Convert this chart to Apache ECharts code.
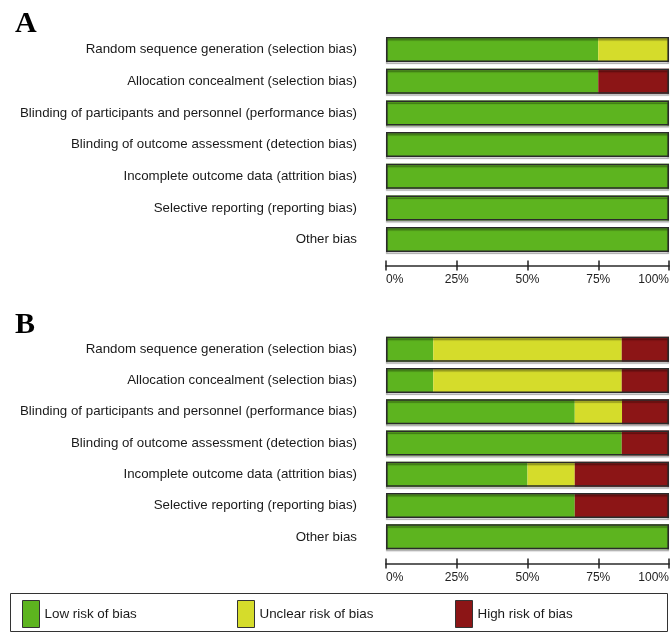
<!DOCTYPE html>
<html><head><meta charset="utf-8">
<script src="https://cdn.jsdelivr.net/npm/echarts@6/dist/echarts.min.js"></script>
<style>html,body{margin:0;padding:0;background:#fff}#c{width:670px;height:633px}</style>
</head><body><div id="c"></div>
<script>
const categories = [
  'Random sequence generation (selection bias)',
  'Allocation concealment (selection bias)',
  'Blinding of participants and personnel (performance bias)',
  'Blinding of outcome assessment (detection bias)',
  'Incomplete outcome data (attrition bias)',
  'Selective reporting (reporting bias)',
  'Other bias'
];
const seriesNames = ['Low risk of bias', 'Unclear risk of bias', 'High risk of bias'];
// Panel A (%)
const lowA = [75, 75, 100, 100, 100, 100, 100];
const unclearA = [25, 0, 0, 0, 0, 0, 0];
const highA = [0, 25, 0, 0, 0, 0, 0];
// Panel B (%)
const lowB = [16.7, 16.7, 66.7, 83.3, 50, 66.7, 100];
const unclearB = [66.6, 66.6, 16.7, 0, 16.7, 0, 0];
const highB = [16.7, 16.7, 16.6, 16.7, 33.3, 33.3, 0];
const tickValues = [0, 25, 50, 75, 100];
const panelLetters = ['A', 'B'];

const colors = ['#5db41f', '#d5dc2b', '#8c1516'];
const font = 'Liberation Sans, Arial, sans-serif';

const chart = echarts.init(document.getElementById('c'));
const grids = [
  {left: 386, width: 283, top: 33.7, height: 221.7, outerBoundsMode: 'none', containLabel: false},
  {left: 386, width: 283, top: 333.5, height: 219, outerBoundsMode: 'none', containLabel: false}
];
const offsets = [10, 11];
const xAxes = [], yAxes = [], series = [];
const panels = [[lowA, unclearA, highA], [lowB, unclearB, highB]];
grids.forEach((g, i) => {
  const base = {
    type: 'value', gridIndex: i, min: 0, max: 100, interval: 25,
    position: 'bottom', offset: offsets[i], splitLine: {show: false},
    axisLine: {show: true, lineStyle: {color: '#555', width: 1.5}}
  };
  xAxes.push(Object.assign({}, base, {
    axisTick: {show: true, inside: false, length: 5, lineStyle: {color: '#222', width: 1.5}},
    axisLabel: {show: true, fontFamily: font, fontSize: 12, color: '#222', margin: 8,
      alignMinLabel: 'left', alignMaxLabel: 'right',
      formatter: v => tickValues.includes(v) ? v + '%' : ''}
  }));
  xAxes.push(Object.assign({}, base, {
    axisTick: {show: true, inside: true, length: 5, lineStyle: {color: '#222', width: 1.5}},
    axisLabel: {show: false}
  }));
  yAxes.push({
    type: 'category', gridIndex: i, data: categories, inverse: true,
    axisLine: {show: false}, axisTick: {show: false},
    axisLabel: {fontFamily: font, fontSize: 13.3, color: '#1a1a1a', margin: 29}
  });
  const vals = panels[i];
  vals.forEach((arr, k) => {
    series.push({
      name: seriesNames[k], type: 'bar', stack: 'p' + i,
      xAxisIndex: i * 2, yAxisIndex: i, barWidth: 25,
      itemStyle: {color: colors[k]}, data: arr, silent: true
    });
  });
  const totals = categories.map((_, r) => vals.reduce((s, a) => s + a[r], 0));
  series.push({
    name: 'outline' + i, type: 'bar', xAxisIndex: i * 2, yAxisIndex: i,
    barWidth: 25, barGap: '-100%', z: 5, silent: true,
    itemStyle: {color: 'rgba(0,0,0,0)', borderColor: '#2a2a2a', borderWidth: 1.5,
      shadowColor: 'rgba(0,0,0,0.35)', shadowOffsetY: 2, shadowBlur: 1},
    data: totals
  });
});

const legendX = [22, 237, 455];
const legends = seriesNames.map((n, k) => ({
  data: [n], left: legendX[k], top: 600, padding: 0, itemWidth: 17, itemHeight: 27, itemGap: 0,
  icon: 'rect', selectedMode: false,
  textStyle: {fontFamily: font, fontSize: 13.4, color: '#1a1a1a'},
  itemStyle: {borderColor: '#333', borderWidth: 1}
}));

chart.setOption({
  animation: false,
  backgroundColor: '#fff',
  grid: grids,
  xAxis: xAxes,
  yAxis: yAxes,
  series: series,
  legend: legends,
  graphic: [
    {type: 'text', left: 15, top: 9, style: {text: panelLetters[0], font: 'bold 30px "Liberation Serif", "Times New Roman", serif', fill: '#000'}},
    {type: 'text', left: 15, top: 310, style: {text: panelLetters[1], font: 'bold 30px "Liberation Serif", "Times New Roman", serif', fill: '#000'}},
    {type: 'rect', shape: {x: 10.5, y: 593.5, width: 657, height: 38}, style: {fill: 'none', stroke: '#333', lineWidth: 1}, z: -1}
  ]
});
</script></body></html>
